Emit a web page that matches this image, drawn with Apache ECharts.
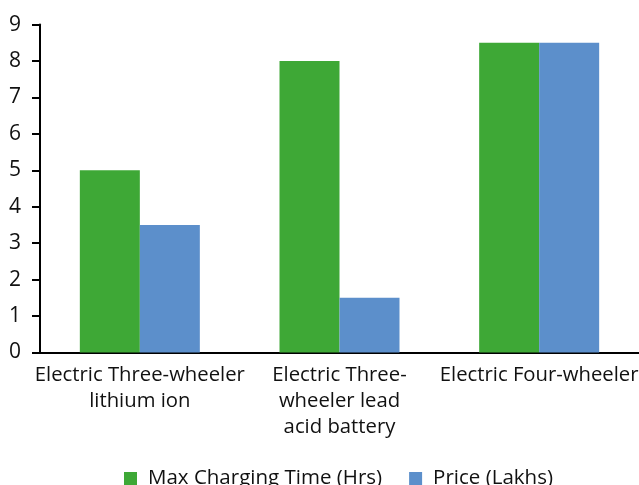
<!DOCTYPE html>
<html><head><meta charset="utf-8">
<script src="https://cdn.jsdelivr.net/npm/echarts@6/dist/echarts.min.js"></script>
<style>html,body{margin:0;padding:0;background:#fff}#c{width:639px;height:485px}</style>
</head><body><div id="c"></div>
<script>
const categories = ["Electric Three-wheeler\nlithium ion", "Electric Three-\nwheeler lead\nacid battery", "Electric Four-wheeler"];
const chargingTime = [5, 8, 8.5];
const price = [3.5, 1.5, 8.5];
const seriesNames = ["Max Charging Time (Hrs)", "Price (Lakhs)"];
const yTicks = [0, 9, 1];

const FONT = "Open Sans";
const chart = echarts.init(document.getElementById('c'), null, {renderer: 'canvas'});
chart.setOption({
  animation: false,
  textStyle: {fontFamily: FONT},
  grid: {left: 40, right: 0, top: 24.6, bottom: 132.5, containLabel: false, outerBoundsMode: 'none'},
  legend: {
    top: 463, left: 119,
    itemWidth: 13, itemHeight: 13, itemGap: 27, icon: 'rect',
    textStyle: {fontFamily: FONT, fontSize: 20.5, color: '#111', padding: [0, 0, 0, 6]},
    data: seriesNames
  },
  xAxis: {
    type: 'category', data: categories,
    axisLine: {lineStyle: {color: '#000', width: 2}},
    axisTick: {show: false},
    axisLabel: {fontFamily: FONT, fontSize: 20.3, color: '#111', lineHeight: 26, margin: 10, interval: 0}
  },
  yAxis: {
    type: 'value', min: yTicks[0], max: yTicks[1], interval: yTicks[2],
    axisLine: {show: true, lineStyle: {color: '#000', width: 2}},
    axisTick: {show: true, length: 8, lineStyle: {color: '#000', width: 2}},
    splitLine: {show: false},
    axisLabel: {fontFamily: FONT, fontSize: 21, color: '#111', margin: 19}
  },
  series: [
    {name: seriesNames[0], type: 'bar', data: chargingTime, barWidth: 60, barGap: '0%', itemStyle: {color: '#3EA836'}},
    {name: seriesNames[1], type: 'bar', data: price, barWidth: 60, barGap: '0%', itemStyle: {color: '#5C8FCB'}}
  ]
});
</script></body></html>
